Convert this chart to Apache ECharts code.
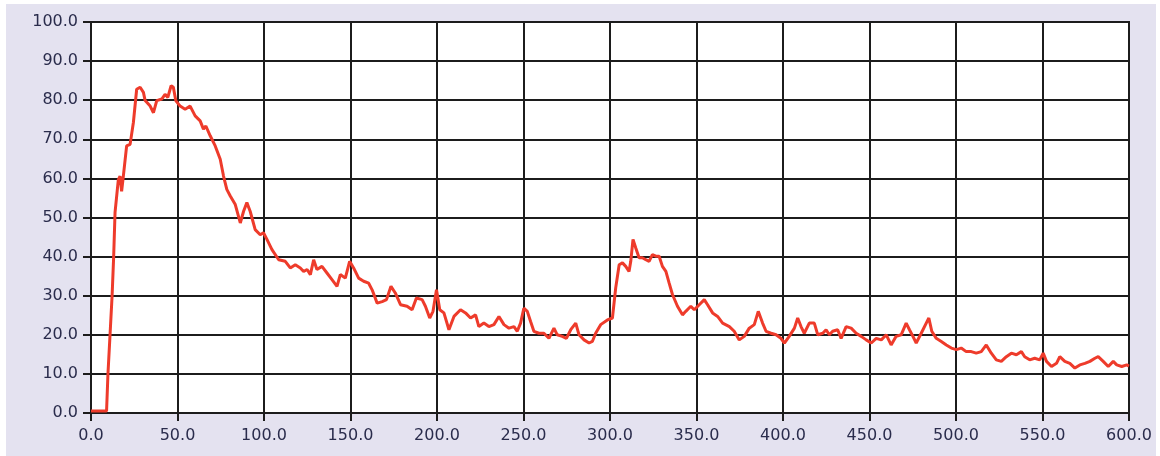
<!DOCTYPE html>
<html lang="en">
<head>
    <meta charset="UTF-8">
    <title>Signal trace</title>
    <style>
        body { margin: 0; background: #fff; }
        #chart { position: absolute; left: 6px; top: 4px; width: 1150px; height: 452px; background: #e4e2f0; }
    </style>
</head>
<body>
    <div id="chart"></div>
    <script src="https://cdn.jsdelivr.net/npm/echarts@6/dist/echarts.min.js"></script>
    <script>
        // values
        const times = [
            0, 5, 9, 9.8, 11, 12.2, 13.1, 13.9, 15.8, 16.8, 17.7, 18.7, 20.6, 22.6, 24.5, 26.4, 28.4, 30.3, 31.3, 34.2,
            36.1, 38.0, 40.9, 42.8, 44.4, 46.3, 47.6, 49.0, 51.5, 54.4, 57.3, 60.2, 63.1, 65.0, 66.4, 68.9, 71.8, 74.7, 76.6, 78.5,
            80.5, 83.4, 86.3, 88.2, 90.1, 92.0, 94.9, 97.8, 99.7, 101.7, 104.6, 108.5, 112.3, 115.2, 118.1, 121.0, 122.9, 124.9, 126.8, 128.7,
            130.6, 133.5, 136.4, 139.3, 142.2, 144.1, 147.0, 149.5, 151.8, 154.7, 157.6, 160.5, 162.5, 165.4, 168.3, 170.8, 173.4, 175.9, 178.9, 182.7,
            185.6, 188.1, 191.4, 193.3, 195.8, 197.7, 199.7, 201.6, 204.0, 206.9, 209.8, 213.6, 216.5, 219.4, 222.3, 224.2, 227.1, 230.0, 232.9, 235.8,
            238.7, 241.6, 244.5, 246.4, 248.3, 250.2, 252.2, 254.1, 256.0, 258.9, 261.8, 264.7, 267.6, 269.5, 272.4, 274.8, 277.3, 280.2, 282.1, 285.0,
            287.9, 289.8, 291.7, 294.6, 298.5, 301.4, 303.3, 305.3, 307.2, 309.1, 311.0, 312.0, 313.3, 314.9, 316.8, 318.7, 320.7, 322.6, 324.5, 326.5,
            328.4, 330.3, 332.3, 334.2, 336.1, 339.0, 341.9, 343.8, 346.7, 348.7, 351.6, 354.5, 356.4, 359.3, 362.2, 365.1, 369.0, 371.8, 374.7, 377.6,
            380.5, 383.4, 385.7, 388.2, 390.2, 393.1, 396.0, 398.8, 400.8, 403.6, 406.6, 408.5, 410.4, 412.3, 415.2, 418.1, 420.1, 423.0, 424.9, 426.8,
            428.7, 431.6, 433.6, 436.5, 439.4, 442.3, 445.2, 448.1, 451.0, 453.9, 456.8, 459.7, 462.5, 465.4, 468.3, 471.2, 473.1, 475.1, 477.0, 479.9,
            482.8, 484.3, 486.0, 488.6, 491.5, 494.4, 497.3, 500.2, 503.0, 505.9, 508.8, 511.7, 514.6, 517.5, 520.4, 523.3, 526.2, 529.1, 532.0, 534.9,
            537.8, 539.7, 542.6, 545.5, 548.4, 550.4, 552.3, 555.2, 558.1, 560.0, 562.9, 565.8, 568.7, 571.6, 574.5, 577.4, 580.3, 582.2, 585.1, 588.0,
            590.9, 592.9, 595.8, 598.7, 600
        ];
        const values = [
            0.5, 0.5, 0.5, 10, 20, 30, 40, 51.3, 59.7, 60.6, 56.7, 60.6, 68.3, 68.7, 74.3, 82.8, 83.3, 82.0, 79.9, 78.5,
            76.8, 79.9, 80.3, 81.5, 80.7, 83.7, 83.3, 79.9, 78.5, 77.7, 78.5, 76.0, 74.7, 72.6, 73.4, 70.9, 68.3, 64.9, 60.6, 57.2,
            55.5, 53.3, 48.6, 51.6, 53.8, 51.6, 46.9, 45.6, 46.1, 44.4, 41.8, 39.2, 38.8, 37.1, 37.9, 37.1, 36.2, 36.7, 35.4, 39.2,
            36.7, 37.5, 35.8, 34.1, 32.4, 35.4, 34.5, 38.8, 37.1, 34.5, 33.7, 33.2, 31.5, 28.1, 28.5, 29.0, 32.4, 30.7, 27.7, 27.3,
            26.4, 29.4, 29.0, 27.3, 24.3, 26.0, 31.5, 26.4, 25.6, 21.3, 24.7, 26.4, 25.6, 24.3, 25.1, 22.1, 23.0, 22.1, 22.6, 24.7,
            22.6, 21.7, 22.1, 20.9, 23.0, 26.8, 26.0, 23.4, 20.9, 20.4, 20.4, 19.1, 21.7, 20.0, 19.6, 19.1, 21.3, 23.0, 20.0, 18.7,
            17.9, 18.3, 20.4, 22.6, 23.8, 24.3, 32.0, 37.9, 38.4, 37.5, 36.2, 38.8, 44.4, 42.2, 39.7, 39.7, 39.2, 38.8, 40.5, 40.1,
            40.1, 37.5, 36.2, 33.2, 30.3, 27.3, 25.1, 26.0, 27.3, 26.4, 27.7, 29.0, 27.7, 25.6, 24.7, 23.0, 22.1, 20.9, 18.7, 19.6,
            21.7, 22.6, 26.0, 23.0, 20.9, 20.4, 20.0, 19.1, 17.9, 19.6, 21.7, 24.3, 22.1, 20.4, 23.0, 23.0, 20.0, 20.4, 21.3, 20.0,
            20.9, 21.3, 19.1, 22.1, 21.7, 20.4, 19.6, 18.7, 17.9, 19.1, 18.7, 20.0, 17.4, 19.6, 20.0, 23.0, 21.3, 19.6, 17.9, 20.4,
            23.0, 24.3, 20.9, 19.1, 18.3, 17.4, 16.6, 16.2, 16.6, 15.7, 15.7, 15.3, 15.7, 17.4, 15.3, 13.6, 13.2, 14.4, 15.3, 14.9,
            15.7, 14.4, 13.6, 14.0, 13.6, 15.3, 13.2, 11.9, 12.7, 14.4, 13.2, 12.7, 11.5, 12.3, 12.7, 13.2, 14.0, 14.4, 13.2, 11.9,
            13.2, 12.3, 11.9, 12.3, 12.0
        ];

        const chart = echarts.init(document.getElementById('chart'));
        const ink = '#1c1c1c';
        const labelStyle = {
            color: '#2a2c4c',
            fontFamily: 'DejaVu Sans',
            fontSize: 16,
            formatter: v => v.toFixed(1)
        };

        chart.setOption({
            animation: false,
            grid: {
                left: 85, right: 27, top: 18, bottom: 43,
                show: true, backgroundColor: '#ffffff',
                borderColor: ink, borderWidth: 2
            },
            xAxis: {
                type: 'value', min: 0, max: 600, interval: 50,
                axisLine: { show: true, lineStyle: { color: ink, width: 2 } },
                axisTick: { show: true, length: 8, lineStyle: { color: ink, width: 2 } },
                axisLabel: Object.assign({ margin: 15 }, labelStyle),
                splitLine: { show: true, lineStyle: { color: ink, width: 2 } }
            },
            yAxis: {
                type: 'value', min: 0, max: 100, interval: 10,
                axisLine: { show: true, lineStyle: { color: ink, width: 2 } },
                axisTick: { show: true, length: 8, lineStyle: { color: ink, width: 2 } },
                axisLabel: Object.assign({ margin: 13 }, labelStyle),
                splitLine: { show: true, lineStyle: { color: ink, width: 2 } }
            },
            series: [{
                type: 'line',
                data: times.map((t, i) => [t, values[i]]),
                showSymbol: false,
                smooth: false,
                lineStyle: { color: '#ee3b2b', width: 3 }
            }]
        });
    </script>
</body>
</html>
